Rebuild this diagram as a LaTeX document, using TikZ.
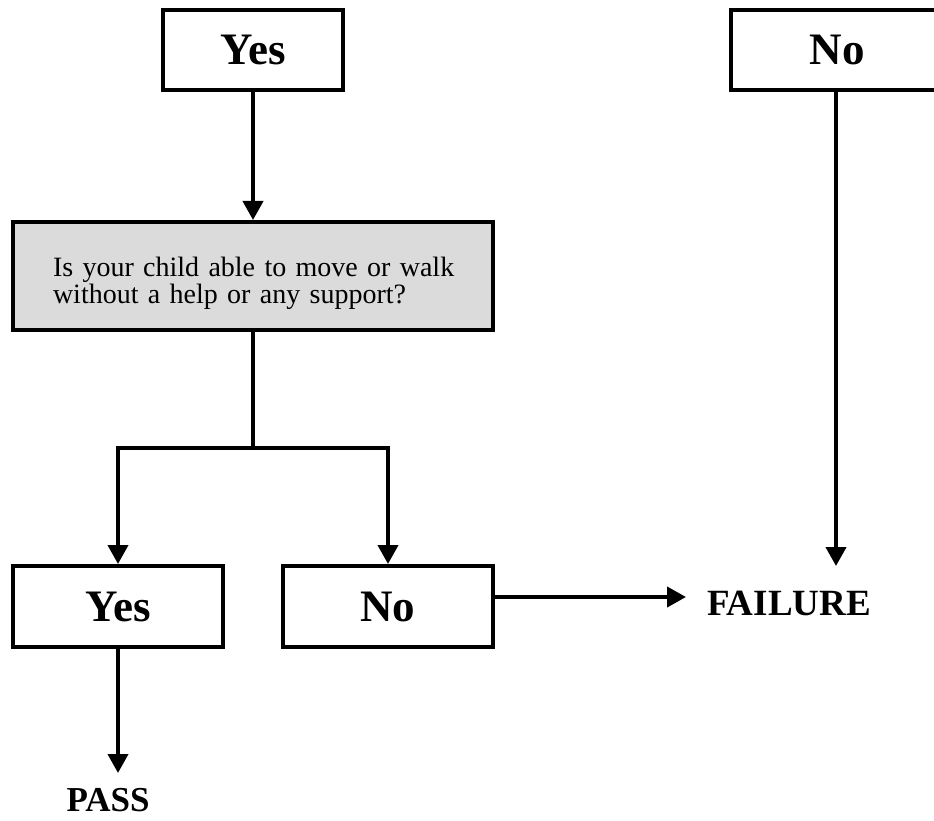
\documentclass[tikz,border=0pt]{standalone}
\usepackage{fontspec}
\setmainfont{Liberation Serif}
\usetikzlibrary{arrows.meta}
\begin{document}
\begin{tikzpicture}[x=1pt,y=-1pt,
  box/.style={draw,line width=4pt,minimum width=#1,minimum height=80pt,inner sep=0pt,
    font=\fontsize{45}{50}\selectfont\bfseries},
  question/.style={draw,line width=4pt,fill=gray!28,minimum width=480pt,minimum height=108pt,
    inner sep=0pt,text width=400pt,align=left,font=\fontsize{28}{27}\selectfont},
  result/.style={inner sep=0pt,font=\bfseries},
  link/.style={line width=4pt},
  conn/.style={line width=4pt,-{Triangle[length=19pt,width=20pt]}}]
  \useasboundingbox (0,0) rectangle (934,821);

  % boxes
  \node[box=180pt] (yesTop) at (253,50) {Yes};
  \node[box=212pt] (noTop) at (837,50) {No};
  \node[question] (q) at (253,276)
    {\rule{0pt}{35pt}\makebox[400pt][l]{Is your child able to move or walk}\\without a help or any support?};
  \node[box=210pt,minimum height=81pt] (yesB) at (118,606.5) {Yes};
  \node[box=210pt,minimum height=81pt] (noB) at (388,606.5) {No};

  % outcomes
  \node[result,font=\fontsize{37}{40}\selectfont\bfseries] (fail) at (789,603) {FAILURE};
  \node[result,font=\fontsize{35}{38}\selectfont\bfseries] (pass) at (108,800) {PASS};

  % connector end points
  \coordinate (split) at (253,448);
  \coordinate (failLeft) at (686,597);
  \coordinate (failTop) at (836,566);
  \coordinate (passTop) at (118,773);

  % connectors
  \draw[conn] (yesTop) -- (q);
  \draw[link] (q.south) -- (split);
  \draw[conn] (split) -| (yesB.north);
  \draw[conn] (split) -| (noB.north);
  \draw[conn] (noB.east |- failLeft) -- (failLeft);
  \draw[conn] (noTop.south -| failTop) -- (failTop);
  \draw[conn] (yesB.south) -- (passTop);
\end{tikzpicture}
\end{document}
